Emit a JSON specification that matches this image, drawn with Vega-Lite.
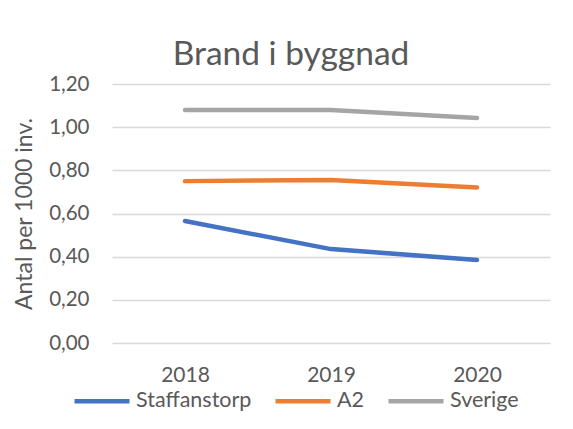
{
  "$schema": "https://vega.github.io/schema/vega-lite/v6.json",
  "width": 438,
  "height": 259,
  "autosize": {"type": "none"},
  "padding": {"left": 112, "top": 84, "right": 23, "bottom": 86},
  "background": "white",
  "title": {
    "text": "Brand i byggnad",
    "font": "Lato",
    "fontSize": 33.5,
    "fontWeight": "normal",
    "color": "#595959",
    "anchor": "middle",
    "dx": -40,
    "offset": 2
  },
  "data": {
    "values": [
      {"year": "2018", "series": "Staffanstorp", "value": 0.565},
      {"year": "2019", "series": "Staffanstorp", "value": 0.435},
      {"year": "2020", "series": "Staffanstorp", "value": 0.385},
      {"year": "2018", "series": "A2", "value": 0.75},
      {"year": "2019", "series": "A2", "value": 0.755},
      {"year": "2020", "series": "A2", "value": 0.72},
      {"year": "2018", "series": "Sverige", "value": 1.08},
      {"year": "2019", "series": "Sverige", "value": 1.08},
      {"year": "2020", "series": "Sverige", "value": 1.043}
    ]
  },
  "mark": {"type": "line", "strokeWidth": 4.5, "strokeCap": "round", "strokeJoin": "round"},
  "encoding": {
    "x": {
      "field": "year",
      "type": "ordinal",
      "scale": {"type": "point", "padding": 0.5},
      "axis": {
        "title": null,
        "labelAngle": 0,
        "labelFont": "Lato",
        "labelFontSize": 21,
        "labelColor": "#595959",
        "ticks": false,
        "domain": false,
        "grid": false,
        "labelPadding": 21
      }
    },
    "y": {
      "field": "value",
      "type": "quantitative",
      "scale": {"domain": [0, 1.2], "nice": false},
      "axis": {
        "title": "Antal per 1000 inv.",
        "titleFont": "Lato",
        "titleFontSize": 23,
        "titleFontWeight": "normal",
        "titleColor": "#595959",
        "titlePadding": 12,
        "values": [0, 0.2, 0.4, 0.6, 0.8, 1.0, 1.2],
        "labelExpr": "replace(format(datum.value, '.2f'), '.', ',')",
        "labelFont": "Lato",
        "labelFontSize": 20.5,
        "labelColor": "#595959",
        "labelPadding": 23,
        "ticks": false,
        "domain": false,
        "grid": true,
        "gridColor": "#D9D9D9",
        "gridWidth": 1.5
      }
    },
    "color": {
      "field": "series",
      "type": "nominal",
      "scale": {
        "domain": ["Staffanstorp", "A2", "Sverige"],
        "range": ["#4472C4", "#ED7D31", "#A5A5A5"]
      },
      "legend": {
        "title": null,
        "orient": "none",
        "direction": "horizontal",
        "legendX": -40,
        "legendY": 287,
        "symbolType": "stroke",
        "symbolSize": 3025,
        "symbolStrokeWidth": 4.5,
        "labelFont": "Lato",
        "labelFontSize": 21.5,
        "labelColor": "#595959",
        "labelOffset": 4,
        "columnPadding": 14,
        "labelLimit": 300
      }
    }
  },
  "config": {"view": {"stroke": null}}
}
